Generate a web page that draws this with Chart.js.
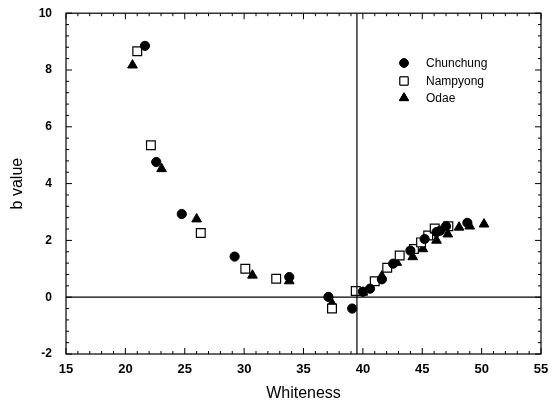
<!DOCTYPE html>
<html>
<head>
<meta charset="utf-8">
<script src="https://cdn.jsdelivr.net/npm/chart.js@4/dist/chart.umd.min.js"></script>
<style>
  html, body { margin: 0; padding: 0; background: #fff; }
  #wrap { width: 559px; height: 408px; }
</style>
</head>
<body>
<div id="wrap"><canvas id="chart"></canvas></div>
<script>
// data: [whiteness, b value]
const chunchung = [
  [21.65, 8.85], [22.6, 4.76], [24.75, 2.93], [29.2, 1.43], [33.8, 0.71],
  [37.1, 0.01], [39.1, -0.4], [40.0, 0.19], [40.6, 0.3], [41.6, 0.63],
  [42.55, 1.18], [44.0, 1.64], [45.2, 2.05], [46.2, 2.29], [46.5, 2.34],
  [47.0, 2.5], [48.8, 2.62]
];
const nampyong = [
  [21.0, 8.66], [22.15, 5.35], [26.35, 2.26], [30.1, 1.0], [32.7, 0.65],
  [37.4, -0.4], [39.4, 0.22], [41.0, 0.56], [42.05, 1.04], [43.1, 1.47],
  [44.3, 1.7], [44.9, 1.93], [45.5, 2.17], [46.05, 2.42], [47.2, 2.5]
];
const odae = [
  [20.6, 8.17], [23.05, 4.52], [26.0, 2.75], [30.7, 0.77], [33.8, 0.57],
  [37.4, -0.22], [40.0, 0.17], [41.6, 0.74], [42.85, 1.22], [44.2, 1.42],
  [45.05, 1.7], [46.2, 2.0], [47.15, 2.22], [48.1, 2.46], [49.0, 2.5],
  [50.2, 2.57]
];
const seriesNames = ['Chunchung', 'Nampyong', 'Odae'];
const xTicks = [15, 20, 25, 30, 35, 40, 45, 50, 55];
const yTicks = [-2, 0, 2, 4, 6, 8, 10];
const xRefLine = 39.5;
const yRefLine = 0;

const toPts = arr => arr.map(p => ({ x: p[0], y: p[1] }));

// frame, inward ticks, reference lines, titles and the inset legend
const decor = {
  id: 'decor',
  afterDraw(chart) {
    const ctx = chart.ctx;
    const a = chart.chartArea;
    const xs = chart.scales.x, ys = chart.scales.y;
    ctx.save();
    ctx.strokeStyle = '#000';
    ctx.lineWidth = 1.2;
    ctx.strokeRect(a.left, a.top, a.right - a.left, a.bottom - a.top);

    // reference lines
    ctx.beginPath();
    const zy = ys.getPixelForValue(yRefLine);
    ctx.moveTo(a.left, zy); ctx.lineTo(a.right, zy);
    const vx = xs.getPixelForValue(xRefLine);
    ctx.moveTo(vx, a.top); ctx.lineTo(vx, a.bottom);
    ctx.stroke();

    // ticks pointing inward
    ctx.lineWidth = 1;
    ctx.beginPath();
    for (let v = 15; v <= 55; v += 1) {
      const px = xs.getPixelForValue(v);
      const len = v % 5 === 0 ? 6 : 3;
      ctx.moveTo(px, a.bottom); ctx.lineTo(px, a.bottom - len);
      ctx.moveTo(px, a.top); ctx.lineTo(px, a.top + len);
    }
    for (let i = 0; i <= 30; i++) {
      const v = -2 + i * 0.4;
      const py = ys.getPixelForValue(v);
      const len = i % 5 === 0 ? 6 : 3;
      ctx.moveTo(a.left, py); ctx.lineTo(a.left + len, py);
      ctx.moveTo(a.right, py); ctx.lineTo(a.right - len, py);
    }
    ctx.stroke();

    // axis titles
    ctx.fillStyle = '#000';
    ctx.font = '16px "Liberation Sans", Arial, sans-serif';
    ctx.textAlign = 'center';
    ctx.textBaseline = 'middle';
    ctx.fillText('Whiteness', (a.left + a.right) / 2, 394);
    ctx.save();
    ctx.translate(18, (a.top + a.bottom) / 2);
    ctx.rotate(-Math.PI / 2);
    ctx.fillText('b value', 0, 0);
    ctx.restore();

    // legend
    ctx.font = '12px "Liberation Sans", Arial, sans-serif';
    ctx.textAlign = 'left';
    const lx = 404, ly = [63, 81, 98];
    chart.data.datasets.forEach((ds, i) => {
      Chart.helpers.drawPoint(ctx, {
        pointStyle: ds.pointStyle, radius: ds.pointRadius - 0.4, borderWidth: 1
      }, lx, ly[i]);
      ctx.fillStyle = ds.backgroundColor;
      ctx.strokeStyle = '#000';
      ctx.fill();
      ctx.stroke();
      ctx.fillStyle = '#000';
      ctx.fillText(ds.label, 426, ly[i] + 1);
    });
    ctx.restore();
  }
};

new Chart(document.getElementById('chart'), {
  type: 'scatter',
  data: {
    datasets: [
      { label: seriesNames[0], data: toPts(chunchung), pointStyle: 'circle',
        pointRadius: 4.6, backgroundColor: '#000', borderColor: '#000', borderWidth: 1 },
      { label: seriesNames[1], data: toPts(nampyong), pointStyle: 'rect',
        pointRadius: 6.2, backgroundColor: '#fff', borderColor: '#000', borderWidth: 1.2 },
      { label: seriesNames[2], data: toPts(odae), pointStyle: 'triangle',
        pointRadius: 5.6, backgroundColor: '#000', borderColor: '#000', borderWidth: 1 }
    ]
  },
  options: {
    responsive: true,
    maintainAspectRatio: false,
    animation: false,
    layout: { padding: { left: 0, top: 10, right: 18, bottom: 0 } },
    plugins: { legend: { display: false }, tooltip: { enabled: false } },
    scales: {
      x: {
        type: 'linear', min: 15, max: 55,
        afterBuildTicks: s => { s.ticks = xTicks.map(v => ({ value: v })); },
        afterFit: s => { s.height = 54; },
        grid: { display: false },
        border: { display: false },
        ticks: { color: '#000', padding: 0, maxRotation: 0,
          font: { family: '"Liberation Sans", Arial, sans-serif', size: 13, weight: 'bold' } }
      },
      y: {
        type: 'linear', min: -2, max: 10,
        afterBuildTicks: s => { s.ticks = yTicks.map(v => ({ value: v })); },
        afterFit: s => { s.width = 66; },
        grid: { display: false },
        border: { display: false },
        ticks: { color: '#000', padding: 6,
          font: { family: '"Liberation Sans", Arial, sans-serif', size: 12, weight: 'bold' } }
      }
    }
  },
  plugins: [decor]
});
</script>
</body>
</html>
